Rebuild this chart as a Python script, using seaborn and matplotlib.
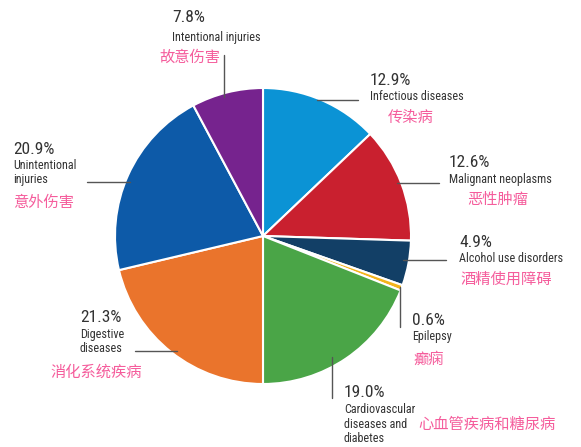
import matplotlib
matplotlib.use("Agg")
import matplotlib.pyplot as plt
import seaborn as sns
from matplotlib import font_manager
from matplotlib.font_manager import FontProperties

sns.set_theme(style="white")

# ---- data ----
categories_en = ["Infectious diseases", "Malignant neoplasms", "Alcohol use disorders", "Epilepsy",
                 "Cardiovascular\ndiseases and\ndiabetes", "Digestive\ndiseases",
                 "Unintentional\ninjuries", "Intentional injuries"]
categories_zh = ["传染病", "恶性肿瘤", "酒精使用障碍", "癫痫", "心血管疾病和糖尿病",
                 "消化系统疾病", "意外伤害", "故意伤害"]
values = [12.9, 12.6, 4.9, 0.6, 19.0, 21.3, 20.9, 7.8]
pct_labels = ["12.9%", "12.6%", "4.9%", "0.6%", "19.0%", "21.3%", "20.9%", "7.8%"]
colors = ["#0b93d5", "#c9202f", "#123f66", "#f3b41c", "#4aa547", "#ea742c", "#0d5aa8", "#76238e"]

W, H = 581, 447
fig = plt.figure(figsize=(W / 100, H / 100), dpi=100)
ax = fig.add_axes([0, 0, 1, 1])

def Y(y):
    return H - y

ax.pie(values, colors=colors, startangle=90, counterclock=False,
       center=(263, Y(236)), radius=148,
       wedgeprops=dict(edgecolor="white", linewidth=1.5))
ax.set_xlim(0, W)
ax.set_ylim(0, H)
ax.set_aspect("auto")
ax.axis("off")

# pick a condensed / narrow sans font file if one is installed
cand = None
best = 99
for f in font_manager.fontManager.ttflist:
    n = (f.name + " " + f.fname).lower()
    if "bold" in n or "italic" in n or "oblique" in n or "mono" in n or "serif" in n and "sans" not in n:
        continue
    if "narrow" in n or "condensed" in n or str(f.stretch) in ("condensed", "semi-condensed", "extra-condensed"):
        score = 0 if "liberation" in n else (1 if "roboto" in n else (2 if "dejavu" in n else 3))
        if f.weight in (400, "normal", "regular") and score < best:
            best = score
            cand = f.fname

def en_font(size):
    if cand:
        return FontProperties(fname=cand, size=size)
    return FontProperties(family="DejaVu Sans", size=size)

zh_fam = ["Noto Sans CJK SC", "DejaVu Sans"]
grey = "#333333"
pink = "#f55d9c"

# positions: (pct x, pct top y, name top y, zh x, zh top y)
layout = [
    (370, 73, 90, 388, 109),
    (449, 155, 173, 467, 191),
    (459, 235, 252, 460, 271),
    (412, 313, 330, 413, 351),
    (344, 385, 403, 418, 416),
    (80, 310, 328, 50, 364),
    (13, 142, 159, 13, 194),
    (172, 10, 31, 159, 49),
]

for i in range(len(values)):
    px, pty, nty, zx, zty = layout[i]
    ax.text(px, Y(pty), pct_labels[i], fontproperties=en_font(12.5), color=grey,
            va="top", ha="left")
    ax.text(px, Y(nty), categories_en[i], fontproperties=en_font(8.7), color=grey,
            va="top", ha="left", linespacing=1.15)
    ax.text(zx, Y(zty), categories_zh[i], family=zh_fam, fontsize=11, color=pink,
            va="top", ha="left")

leaders = [
    ((317, 358), (100, 100)),
    ((397, 439), (183, 183)),
    ((403, 446), (260, 260)),
    ((400, 400), (287, 327)),
    ((332, 332), (357, 398)),
    ((135, 177), (351, 351)),
    ((87, 130), (182, 182)),
    ((224, 224), (55, 97)),
]
for xs, ys in leaders:
    ax.plot(xs, [Y(v) for v in ys], color="#555555", linewidth=1.0)

fig.savefig("out.png", dpi=100)
